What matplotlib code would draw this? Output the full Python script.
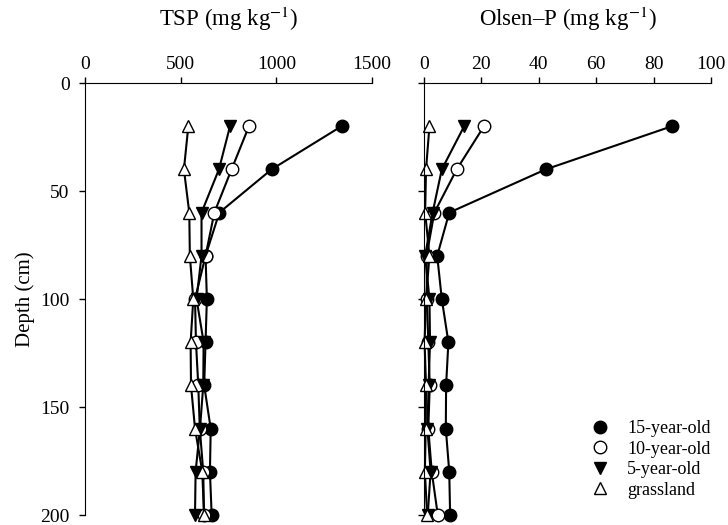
import numpy as np
import matplotlib
matplotlib.use("Agg")
import matplotlib.pyplot as plt
from matplotlib.lines import Line2D

plt.rcParams['font.family'] = ['Liberation Serif', 'DejaVu Serif']
plt.rcParams['mathtext.fontset'] = 'stix'

depth = [20, 40, 60, 80, 100, 120, 140, 160, 180, 200]
series = ['15-year-old', '10-year-old', '5-year-old', 'grassland']

tsp_15 = [1341, 975, 702, 630, 637, 630, 623, 657, 653, 662]
tsp_10 = [857, 766, 676, 630, 575, 580, 592, 600, 618, 622]
tsp_5 = [758, 700, 609, 609, 583, 620, 618, 601, 578, 575]
tsp_g = [540, 517, 545, 548, 566, 552, 554, 575, 613, 622]

olsen_15 = [86.4, 42.4, 8.8, 4.6, 6.2, 8.5, 7.7, 7.6, 8.8, 9.1]
olsen_10 = [20.9, 11.4, 3.6, 0.9, 1.0, 1.5, 2.0, 1.5, 2.7, 4.8]
olsen_5 = [14.0, 6.2, 3.0, 0.4, 1.9, 2.1, 1.6, 1.2, 2.3, 1.3]
olsen_g = [1.9, 0.7, 0.4, 1.9, 0.7, 0.2, 0.7, 0.6, 0.3, 1.1]

styles = [('o', 'black'), ('o', 'white'), ('v', 'black'), ('^', 'white')]

fig = plt.figure(figsize=(7.28, 5.25), dpi=100)
ax1 = fig.add_axes([85/728, 1-515/525, 287/728, 432/525])
ax2 = fig.add_axes([424/728, 1-515/525, 287/728, 432/525])


def draw(ax, data, xmax, xticks):
	for vals, (m, fc) in zip(data, styles):
		ax.plot(vals, depth, color='black', lw=1.5, marker=m, ms=9,
				mfc=fc, mec='black', mew=1.0, clip_on=False)
	ax.set_xlim(0, xmax)
	ax.set_ylim(200, 0)
	ax.xaxis.tick_top()
	ax.set_xticks(xticks)
	ax.set_yticks([0, 50, 100, 150, 200])
	ax.spines['right'].set_visible(False)
	ax.spines['bottom'].set_visible(False)
	ax.tick_params(direction='out', length=4, width=1, labelsize=14)
	ax.tick_params(axis='x', pad=3)
	ax.tick_params(axis='y', pad=7)


draw(ax1, [tsp_15, tsp_10, tsp_5, tsp_g], 1500, [0, 500, 1000, 1500])
draw(ax2, [olsen_15, olsen_10, olsen_5, olsen_g], 100, [0, 20, 40, 60, 80, 100])
ax2.tick_params(axis='y', labelleft=False)

ax1.set_title('TSP (mg kg$^{-1}$)', fontsize=16.5, pad=22)
ax2.set_title('Olsen–P (mg kg$^{-1}$)', fontsize=16.5, pad=22)
ax1.set_ylabel('Depth (cm)', fontsize=15, labelpad=4)

handles = [Line2D([], [], ls='None', marker=m, ms=9, mfc=fc, mec='black', mew=1.0)
		   for m, fc in styles]
ax2.legend(handles, series, loc='lower right', bbox_to_anchor=(1.055, 0.0),
		   frameon=False, fontsize=13, handletextpad=0.9, labelspacing=0.2,
		   handlelength=1.2)

fig.savefig('out.png', dpi=100)
